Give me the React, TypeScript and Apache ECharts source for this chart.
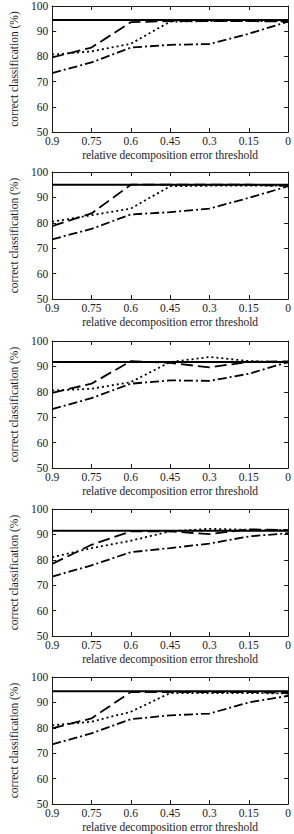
import React, { useEffect, useRef } from "react";
import * as echarts from "echarts";

// Relative decomposition error thresholds (x axis, descending left to right)
const thresholds = ["0.9", "0.75", "0.6", "0.45", "0.3", "0.15", "0"];
const yTicks = [50, 60, 70, 80, 90, 100];

// Correct classification (%) per panel
const baselineP1 = [94.4, 94.4, 94.4, 94.4, 94.4, 94.4, 94.4];
const dashedP1 = [79.6, 83.5, 93.6, 94.0, 94.0, 94.0, 93.8];
const dottedP1 = [80.7, 82.0, 85.0, 93.8, 94.0, 94.0, 94.0];
const dashDotP1 = [73.4, 77.6, 83.5, 84.6, 84.9, 89.0, 93.8];

const baselineP2 = [95.0, 95.0, 95.0, 95.0, 95.0, 95.0, 95.0];
const dashedP2 = [78.7, 83.7, 95.0, 95.0, 95.0, 95.0, 94.5];
const dottedP2 = [80.4, 83.0, 85.6, 94.4, 94.6, 94.6, 94.6];
const dashDotP2 = [73.5, 77.6, 83.3, 84.2, 85.6, 89.8, 94.4];

const baselineP3 = [91.7, 91.7, 91.7, 91.7, 91.7, 91.7, 91.7];
const dashedP3 = [79.6, 83.2, 92.1, 91.4, 89.6, 91.8, 92.0];
const dottedP3 = [80.5, 81.2, 83.8, 91.7, 93.7, 92.1, 91.6];
const dashDotP3 = [73.2, 77.5, 83.2, 84.5, 84.3, 87.1, 91.7];

const baselineP4 = [91.4, 91.4, 91.4, 91.4, 91.4, 91.4, 91.4];
const dashedP4 = [78.4, 85.9, 91.2, 91.2, 90.1, 92.0, 91.7];
const dottedP4 = [81.0, 84.6, 87.5, 91.2, 92.2, 91.8, 91.6];
const dashDotP4 = [73.4, 77.8, 83.0, 84.6, 86.4, 89.2, 90.5];

const baselineP5 = [94.4, 94.4, 94.4, 94.4, 94.4, 94.4, 94.4];
const dashedP5 = [79.8, 83.7, 94.1, 94.1, 94.1, 94.1, 93.7];
const dottedP5 = [81.0, 82.4, 86.3, 93.7, 93.7, 93.7, 93.5];
const dashDotP5 = [73.5, 77.8, 83.4, 84.9, 85.6, 90.0, 92.6];

const panels = [
  [baselineP1, dashedP1, dottedP1, dashDotP1],
  [baselineP2, dashedP2, dottedP2, dashDotP2],
  [baselineP3, dashedP3, dottedP3, dashDotP3],
  [baselineP4, dashedP4, dottedP4, dashDotP4],
  [baselineP5, dashedP5, dottedP5, dashDotP5],
];

const panelTops = [5, 172, 341, 509, 677];
const panelHeight = 127;

const FONT = "'Liberation Serif', 'DejaVu Serif', serif";
const INK = "#1a1a1a";

const lineStyles: any[] = [
  { type: "solid", width: 2 },
  { type: [12, 5], width: 1.8 },
  { type: [2, 3], width: 1.8 },
  { type: [9, 3, 2, 3], width: 1.8 },
];

export default function App() {
  const ref = useRef<HTMLDivElement>(null);

  useEffect(() => {
    document.body.style.margin = "0";
    if (!ref.current) return;
    const chart = echarts.init(ref.current, null, { renderer: "svg" });

    const grid: any[] = [];
    const xAxis: any[] = [];
    const yAxis: any[] = [];
    const series: any[] = [];

    panels.forEach((lines, i) => {
      grid.push({
        left: 34,
        right: 5,
        top: panelTops[i],
        height: panelHeight,
        show: false,
      });
      const tick = { show: true, inside: true, length: 4, lineStyle: { color: INK, width: 1 } };
      const axisLine = { show: true, lineStyle: { color: INK, width: 1 } };
      xAxis.push({
        type: "category",
        gridIndex: i,
        data: thresholds,
        boundaryGap: false,
        position: "bottom",
        axisLine,
        axisTick: { ...tick, alignWithLabel: true },
        axisLabel: { color: INK, fontFamily: FONT, fontSize: 11.5, margin: 3 },
        splitLine: { show: false },
        name: "relative decomposition error threshold",
        nameLocation: "middle",
        nameGap: 17,
        nameTextStyle: { color: INK, fontFamily: FONT, fontSize: 11.5 },
      });
      xAxis.push({
        type: "category",
        gridIndex: i,
        data: thresholds,
        boundaryGap: false,
        position: "top",
        axisLine,
        axisTick: { ...tick, alignWithLabel: true },
        axisLabel: { show: false },
        splitLine: { show: false },
      });
      yAxis.push({
        type: "value",
        gridIndex: i,
        min: 50,
        max: 100,
        interval: 10,
        position: "left",
        axisLine,
        axisTick: tick,
        axisLabel: {
          color: INK,
          fontFamily: FONT,
          fontSize: 11.5,
          margin: 4,
          formatter: (v: number) => (yTicks.includes(v) ? String(v) : ""),
        },
        splitLine: { show: false },
        name: "correct classification (%)",
        nameLocation: "middle",
        nameRotate: 90,
        nameGap: 22,
        nameTextStyle: { color: INK, fontFamily: FONT, fontSize: 11.5 },
      });
      yAxis.push({
        type: "value",
        gridIndex: i,
        min: 50,
        max: 100,
        interval: 10,
        position: "right",
        axisLine,
        axisTick: tick,
        axisLabel: { show: false },
        splitLine: { show: false },
      });
      lines.forEach((values, k) => {
        series.push({
          type: "line",
          xAxisIndex: i * 2,
          yAxisIndex: i * 2,
          data: values,
          showSymbol: false,
          symbol: "none",
          lineStyle: { color: "#000", ...lineStyles[k] },
          z: k === 0 ? 3 : 2,
        });
      });
    });

    chart.setOption({
      animation: false,
      backgroundColor: "#fff",
      grid,
      xAxis,
      yAxis,
      series,
    });

    return () => chart.dispose();
  }, []);

  return <div ref={ref} style={{ width: 294, height: 834 }} />;
}
